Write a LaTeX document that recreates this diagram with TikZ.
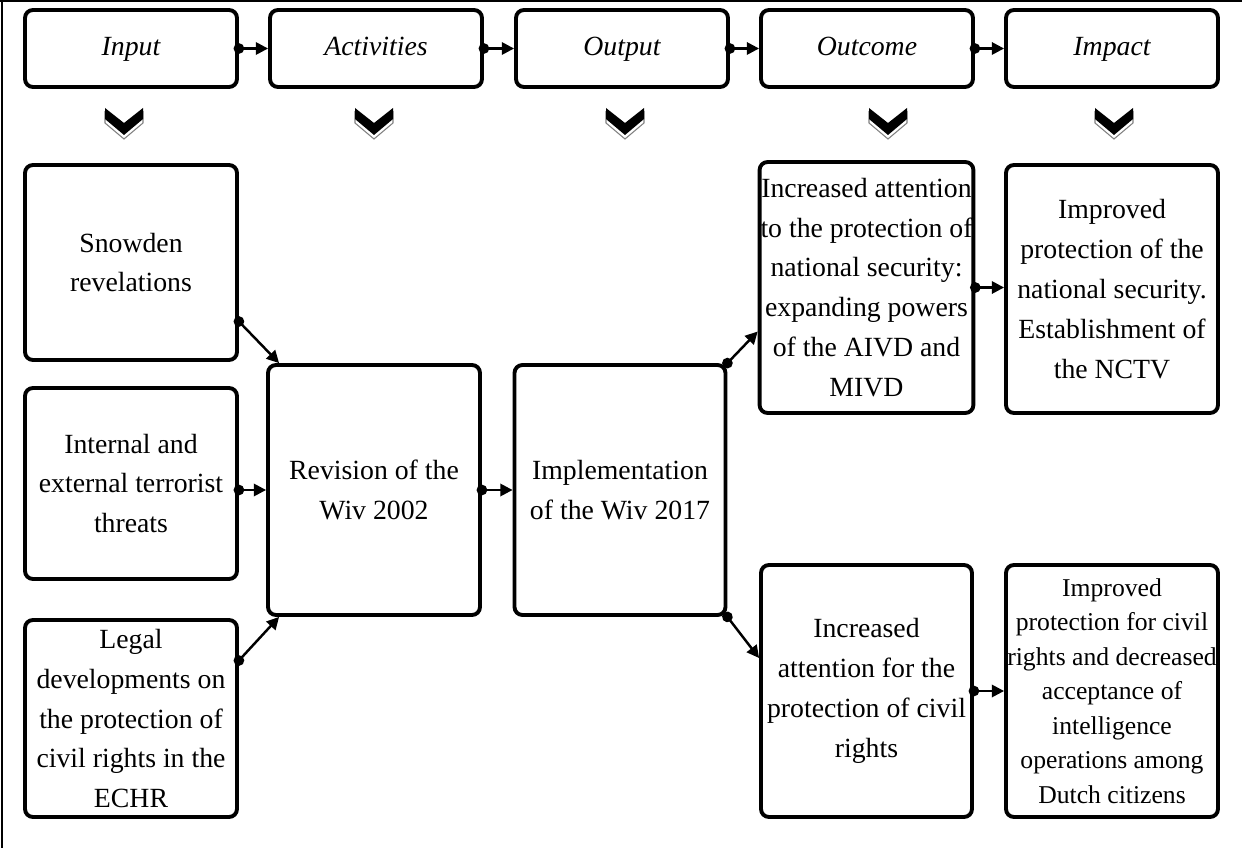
\documentclass[tikz,border=0pt]{standalone}
\usepackage{fontspec}
\setmainfont{Liberation Serif}
\usepackage{tikz}
\usetikzlibrary{arrows.meta, calc, positioning}

\begin{document}
\begin{tikzpicture}[x=0.02cm, y=-0.02cm,
        box/.style={draw, line width=2.2pt, rounded corners=4.5pt, align=center,
            inner sep=0.5pt, minimum width=4.24cm,
            font=\fontsize{15.8}{22.7}\selectfont},
        phase/.style={box, minimum height=1.54cm, text height=2.3ex, text depth=0.5ex,
            font=\fontsize{15.8}{22.7}\selectfont\itshape},
        link/.style={line width=1.4pt, shorten <=-3pt,
            {Circle[length=6pt]}-{Triangle[length=7pt, width=7pt]}},
        shadowv/.style={draw=gray, fill=white, line width=0.6pt}]

        \useasboundingbox (0,0) rectangle (1242,848);
        \draw[line width=0.8pt] (0,1) -- (1242,1);
        \draw[line width=0.8pt] (2,0) -- (2,848);

        % top row
        \node[phase] (inp) at (131,48.5) {Input};
        \node[phase] (act) at (376,48.5) {Activities};
        \node[phase] (outp) at (622,48.5) {Output};
        \node[phase] (outc) at (867,48.5) {Outcome};
        \node[phase] (imp) at (1112,48.5) {Impact};

        \draw[link] (inp.east) -- (act.west);
        \draw[link] (act.east) -- (outp.west);
        \draw[link] (outp.east) -- (outc.west);
        \draw[link] (outc.east) -- (imp.west);

        % chevrons
        \draw[shadowv] (105,112) -- ++(19,15) -- ++(19,-15) -- ++(0,11) -- ++(-19,16) -- ++(-19,-16) -- cycle;
        \fill (105,108) -- ++(19,15) -- ++(19,-15) -- ++(0,11) -- ++(-19,16) -- ++(-19,-16) -- cycle;
        \draw[shadowv] (355,112) -- ++(19,15) -- ++(19,-15) -- ++(0,11) -- ++(-19,16) -- ++(-19,-16) -- cycle;
        \fill (355,108) -- ++(19,15) -- ++(19,-15) -- ++(0,11) -- ++(-19,16) -- ++(-19,-16) -- cycle;
        \draw[shadowv] (606,112) -- ++(19,15) -- ++(19,-15) -- ++(0,11) -- ++(-19,16) -- ++(-19,-16) -- cycle;
        \fill (606,108) -- ++(19,15) -- ++(19,-15) -- ++(0,11) -- ++(-19,16) -- ++(-19,-16) -- cycle;
        \draw[shadowv] (869,112) -- ++(19,15) -- ++(19,-15) -- ++(0,11) -- ++(-19,16) -- ++(-19,-16) -- cycle;
        \fill (869,108) -- ++(19,15) -- ++(19,-15) -- ++(0,11) -- ++(-19,16) -- ++(-19,-16) -- cycle;
        \draw[shadowv] (1095,112) -- ++(19,15) -- ++(19,-15) -- ++(0,11) -- ++(-19,16) -- ++(-19,-16) -- cycle;
        \fill (1095,108) -- ++(19,15) -- ++(19,-15) -- ++(0,11) -- ++(-19,16) -- ++(-19,-16) -- cycle;

        % input
        \node[box, minimum height=3.9cm] (snow) at (131,262.5) {Snowden\\revelations};
        \node[box, minimum height=3.82cm] (intern) at (131,483.5) {Internal and\\external terrorist\\threats};
        \node[box, minimum height=3.94cm] (legal) at (131,718.5) {Legal\\developments on\\the protection of\\civil rights in the\\ECHR};

        % activities and output
        \node[box, minimum height=5cm] (rev) at (374,490) {Revision of the\\Wiv 2002};
        \node[box, minimum width=4.22cm, minimum height=5cm] (impl) at (620,490) {Implementation\\of the Wiv 2017};

        % outcome
        \node[box, minimum width=4.22cm, minimum height=5.02cm] (outsec) at (866.5,287.5)
            {Increased attention\\to the protection of\\national security:\\expanding powers\\of the AIVD and\\MIVD};
        \node[box, minimum width=4.22cm, minimum height=5.04cm] (outciv) at (866.5,691)
            {Increased\\attention for the\\protection of civil\\rights};

        % impact
        \node[box, minimum height=4.96cm] (impsec) at (1112,289)
            {Improved\\protection of the\\national security.\\Establishment of\\the NCTV};
        \node[box, minimum height=5.04cm, font=\fontsize{14.6}{19.6}\selectfont] (impciv) at (1112,691)
            {Improved\\protection for civil\\rights and decreased\\acceptance of\\intelligence\\operations among\\Dutch citizens};

        \draw[link] ($(snow.east)+(0,59)$) -- ($(rev.north west)+(13,0)$);
        \draw[link] (intern.east |- rev.west) -- (rev.west);
        \draw[link] ($(legal.east)+(0,-58)$) -- ($(rev.south west)+(13,0)$);
        \draw[link] (rev.east) -- (impl.west);
        \draw[link] (impl.north east) -- ($(outsec.west)+(0,44)$);
        \draw[link] (impl.south east) -- ($(outciv.west)+(0,-33)$);
        \draw[link] (outsec.east) -- (outsec.east -| impsec.west);
        \draw[link] (outciv.east) -- (impciv.west);

\end{tikzpicture}
\end{document}
